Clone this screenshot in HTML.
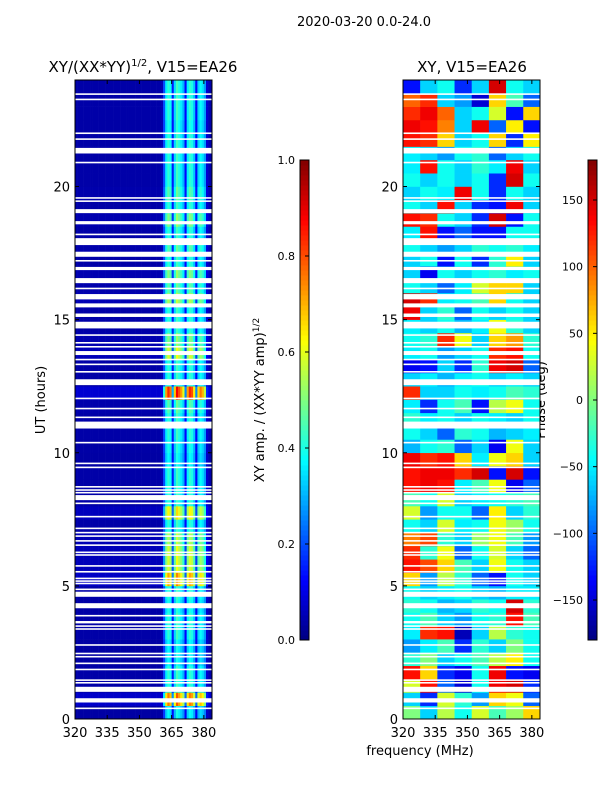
<!DOCTYPE html>
<html><head><meta charset="utf-8"><style>
body{margin:0;background:#fff;width:600px;height:800px;overflow:hidden}
svg text{font-family:"DejaVu Sans","Liberation Sans",sans-serif;fill:#000}
</style></head><body>
<svg id="fig" width="600" height="800" xmlns="http://www.w3.org/2000/svg">
<text x="364" y="26" font-size="13" text-anchor="middle">2020-03-20 0.0-24.0</text>
<text x="143" y="72" font-size="15" text-anchor="middle">XY/(XX*YY)<tspan font-size="10" dy="-6">1/2</tspan><tspan dy="6">, V15=EA26</tspan></text>
<text x="472" y="72" font-size="15" text-anchor="middle">XY, V15=EA26</text>
<text transform="translate(45,400) rotate(-90)" font-size="13" text-anchor="middle">UT (hours)</text>
<text x="420" y="755" font-size="13" text-anchor="middle">frequency (MHz)</text>
<text transform="translate(264,400) rotate(-90)" font-size="13" text-anchor="middle">XY amp. / (XX*YY amp)<tspan font-size="9" dy="-5">1/2</tspan></text>
<text transform="translate(545,400) rotate(-90)" font-size="13" text-anchor="middle">Phase (deg)</text>
<g id="left"></g>
<g id="right"></g>
<g id="axes"></g>
</svg>
<script>
const fLo=320,fHi=383.8,tLo=0,tHi=24;
const xTicks=[320,335,350,365,380];
const yTicks=[0,5,10,15,20];
const ampTicks=[0.0,0.2,0.4,0.6,0.8,1.0];
const phaseTicks=[-150,-100,-50,0,50,100,150];
// amplitude frequency profile, 1 MHz bins from 320
const ampFreq=[0.04,0.04,0.04,0.04,0.04,0.04,0.04,0.04,0.04,0.04,0.04,0.04,0.04,0.04,0.04,0.04,
0.04,0.04,0.04,0.04,0.04,0.04,0.04,0.04,0.04,0.04,0.04,0.04,0.04,0.04,0.04,0.04,
0.04,0.04,0.04,0.04,0.04,0.04,0.04,0.04,0.05,0.2,0.36,0.42,0.38,0.15,0.34,0.44,
0.4,0.36,0.3,0.13,0.36,0.42,0.4,0.32,0.13,0.33,0.38,0.35,0.28,0.08,0.05,0.04];
// amplitude gain per 0.5 h row
const ampTime=[0.9,1.8,1.0,1.0,0.9,0.9,1.0,1.0,0.95,1.0,1.7,1.4,1.4,1.3,1.0,1.5,
1.0,1.0,1.0,0.9,0.95,1.0,1.0,1.1,2.0,1.0,1.0,1.4,1.2,1.0,1.0,1.3,
1.1,1.2,1.0,1.1,1.0,1.2,1.0,1.1,1.0,1.0,1.0,1.0,0.95,1.0,1.0,1.0];
// phase grid: 8 columns (8 MHz) x 48 rows (0.5 h), row 0 = 0-0.5 h
const phase=[
[0,-60,20,-40,30,-20,10,60],[-60,-120,30,-30,-80,60,40,-100],[30,130,-100,-150,-40,140,150,-120],[130,60,-120,-140,-40,140,-130,-140],
[-30,0,-60,-40,-20,20,50,-40],[-80,-50,-20,-120,-30,-60,0,-40],[-50,120,130,-160,-60,20,-30,-40],[-40,-20,-60,-80,-40,-30,130,-20],
[-30,-40,-70,-60,-30,-40,150,-30],[-40,-60,-50,-40,-60,-70,-50,-50],[60,-80,20,-30,-100,-130,-40,-60],[130,110,60,-20,-60,40,-40,-60],
[120,-30,40,-100,-40,30,-60,-100],[90,110,-30,-60,10,40,-20,-80],[-40,-60,30,-50,-40,40,10,-40],[30,-80,-40,-40,-100,50,-60,-30],
[-20,-40,30,-60,-50,-40,-30,-20],[130,140,130,-50,-20,40,-140,-100],[130,140,140,120,150,-130,150,-130],[140,120,130,60,-50,40,60,-60],
[-70,-40,-30,-100,-60,-140,40,-60],[-40,-60,-100,-30,-40,-70,-60,-50],[-30,-50,-40,-60,-40,-50,-60,-40],[-50,-120,-40,-20,-130,20,40,-40],
[120,-60,-60,-40,-50,-40,-20,-30],[-60,-50,-70,-50,-40,-60,-50,-60],[-140,-130,-60,-120,-30,140,150,-100],[-50,-40,-80,-60,-40,120,130,-40],
[-40,-30,120,40,-60,60,80,-30],[-50,-60,-40,-70,-50,40,-30,-60],[140,-60,-30,-100,-40,-60,-40,-60],[150,120,-50,-40,-20,60,-40,-60],
[-40,-60,-100,-50,30,60,60,-60],[-60,-140,-40,-60,-40,-30,-50,-40],[-60,-40,-130,-40,-120,-30,50,-60],[-40,-60,-80,-60,-30,-40,-30,-50],
[-50,130,-130,-100,-130,-130,-40,-40],[130,120,-40,-60,-120,150,-130,-40],[-40,-60,130,-60,-120,-130,140,-60],[-60,-40,-50,140,-40,-120,-40,-60],
[-40,-60,-40,-60,-40,-120,150,-40],[-50,130,-40,-60,-30,-50,140,-60],[-50,-60,-80,-40,-30,-100,-60,-40],[130,120,60,-60,-40,60,-120,50],
[140,130,90,-60,140,-100,50,-130],[120,140,100,-60,-40,30,-130,60],[100,120,-60,-80,-150,60,-20,-100],[-130,-60,-40,-120,-60,150,-40,-60]];
// flagged (blank) time intervals, hours
const flags=[[23.44,23.5],[23.24,23.3],[21.97,22.03],[21.75,21.81],[21.24,21.45],[20.87,20.93],[19.54,19.6],[19.42,19.48],[19.0,19.15],[18.58,18.7],
[18.17,18.23],[17.8,18.06],[17.36,17.55],[17.18,17.24],[16.86,16.98],[16.37,16.56],[16.14,16.2],[15.76,15.96],[15.46,15.61],[15.1,15.23],
[14.67,14.92],[14.39,14.45],[14.1,14.16],[13.95,14.01],[13.67,13.82],[13.47,13.53],[13.29,13.35],[13.01,13.07],[12.54,12.76],[12.01,12.07],
[11.63,11.69],[11.3,11.36],[10.91,11.17],[10.35,10.41],[9.57,9.63],[9.42,9.48],[8.69,8.75],[8.57,8.63],[8.47,8.53],[8.22,8.41],[8.07,8.13],
[7.57,7.63],[7.13,7.19],[6.97,7.03],[6.84,6.9],[6.66,6.72],[6.5,6.56],[6.23,6.29],[6.13,6.19],[5.72,5.78],[5.5,5.56],[5.25,5.31],[5.15,5.21],
[5.06,5.12],[4.84,4.9],[4.59,4.78],[4.16,4.35],[3.85,3.91],[3.59,3.68],[3.46,3.52],[3.35,3.41],[2.75,2.81],[2.43,2.49],[2.31,2.37],[2.06,2.12],
[1.83,1.89],[1.43,1.49],[1.33,1.39],[1.02,1.21],[0.62,0.78],[0.37,0.43]];

const NS="http://www.w3.org/2000/svg";
function jet(v){v=Math.max(0,Math.min(1,v));const c=a=>Math.round(255*Math.max(0,Math.min(1,1.5-Math.abs(4*v-a))));return `rgb(${c(3)},${c(2)},${c(1)})`;}
function mk(tag,attrs,parent){const e=document.createElementNS(NS,tag);for(const k in attrs)e.setAttribute(k,attrs[k]);parent.appendChild(e);return e;}
const panels=[{x0:75,x1:212,g:'left',name:'amp'},{x0:403,x1:540,g:'right',name:'phase'}];
const Y0=719,Y1=80;
const yS=t=>Y0-(t-tLo)/(tHi-tLo)*(Y0-Y1);
function xS(p,f){return p.x0+(f-fLo)/(fHi-fLo)*(p.x1-p.x0);}
{const p=panels[0],g=document.getElementById('left');
for(let r=0;r<ampTime.length;r++){for(let i=0;i<ampFreq.length;i++){
 const f0=fLo+i,f1=Math.min(fHi,f0+1);const ya=yS(r*0.5+0.5),yb=yS(r*0.5);
 const rc=mk('rect',{x:xS(p,f0),y:ya,width:xS(p,f1)-xS(p,f0)+0.3,height:yb-ya+0.3,fill:jet(ampFreq[i]*ampTime[r])},g);
 
 }}}
{const p=panels[1],g=document.getElementById('right');
for(let r=0;r<phase.length;r++){for(let i=0;i<8;i++){
 const f0=fLo+i*8,f1=Math.min(fHi,f0+8);const ya=yS(r*0.5+0.5),yb=yS(r*0.5);
 const rc=mk('rect',{x:xS(p,f0),y:ya,width:xS(p,f1)-xS(p,f0)+0.3,height:yb-ya+0.3,fill:jet((phase[r][i]+180)/360)},g);
 
 }}}
const ax=document.getElementById('axes');
for(const p of panels){
 for(const fl of flags){const rc=mk('rect',{x:p.x0,y:yS(fl[1]),width:p.x1-p.x0,height:yS(fl[0])-yS(fl[1]),fill:'#fff'},ax);
  
  }
 const fr=mk('rect',{x:p.x0,y:Y1,width:p.x1-p.x0,height:Y0-Y1,fill:'none',stroke:'#000','stroke-width':1},ax);
 
 
 for(const t of yTicks){const y=yS(t);
  mk('line',{x1:p.x0,x2:p.x0+4,y1:y,y2:y,stroke:'#000'},ax);mk('line',{x1:p.x1,x2:p.x1-4,y1:y,y2:y,stroke:'#000'},ax);
  const tx=mk('text',{x:p.x0-5,y:y+5,'font-size':13,'text-anchor':'end'},ax);tx.textContent=t;
  
  }
 for(const f of xTicks){const x=xS(p,f);
  mk('line',{x1:x,x2:x,y1:Y0,y2:Y0-4,stroke:'#000'},ax);mk('line',{x1:x,x2:x,y1:Y1,y2:Y1+4,stroke:'#000'},ax);
  const tx=mk('text',{x:x,y:Y0+18,'font-size':13,'text-anchor':'middle'},ax);tx.textContent=f;
  
  }
}
function colorbar(x,vals,lo,hi,name,fmt){
 const top=160,bot=640,n=96;
 for(let i=0;i<n;i++){const rc=mk('rect',{x:x,y:bot-(i+1)*(bot-top)/n,width:9,height:(bot-top)/n+0.5,fill:jet((i+0.5)/n)},ax);
  
  }
 mk('rect',{x:x,y:top,width:9,height:bot-top,fill:'none',stroke:'#000'},ax);
 for(const v of vals){const y=bot-(v-lo)/(hi-lo)*(bot-top);
  mk('line',{x1:x+9,x2:x+5,y1:y,y2:y,stroke:'#000'},ax);
  const tx=mk('text',{x:x-5,y:y+4,'font-size':11,'text-anchor':'end'},ax);tx.textContent=fmt(v);
  
  }
}
colorbar(300,ampTicks,0,1,'amp-colorbar',v=>v.toFixed(1));
colorbar(588,phaseTicks,-180,180,'phase-colorbar',v=>v<0?'\u2212'+(-v):''+v);
</script>
</body></html>
